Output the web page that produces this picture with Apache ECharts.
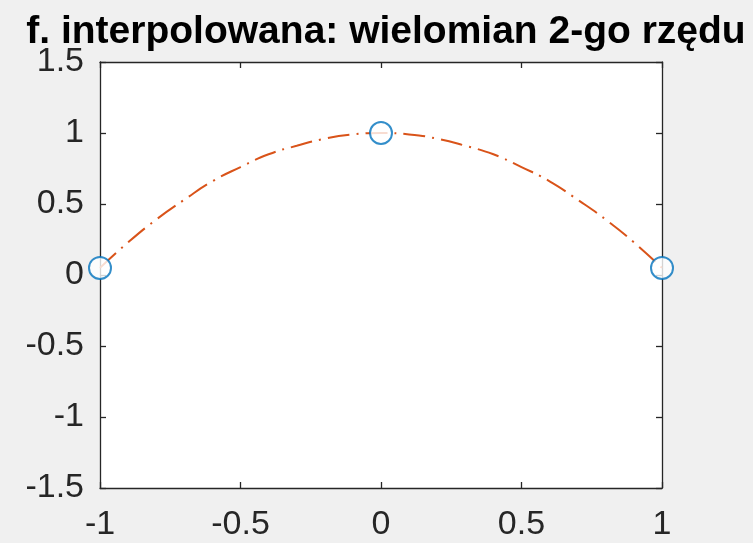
<!DOCTYPE html>
<html>
<head>
<meta charset="utf-8">
<script src="https://cdn.jsdelivr.net/npm/echarts@6/dist/echarts.min.js"></script>
<style>html,body{margin:0;padding:0;background:#f0f0f0;}#c{width:753px;height:543px;}</style>
</head>
<body>
<div id="c"></div>
<script>
var titleText = 'f. interpolowana: wielomian 2-go rzędu';
var nodeX = [-1, 0, 1];
var nodeY = [0.05, 1, 0.05];
var curveX = [-1, -0.9, -0.8, -0.7, -0.6, -0.5, -0.4, -0.3, -0.2, -0.1, 0, 0.1, 0.2, 0.3, 0.4, 0.5, 0.6, 0.7, 0.8, 0.9, 1];
var curveY = [0.05, 0.23, 0.39, 0.53, 0.66, 0.76, 0.85, 0.91, 0.96, 0.99, 1, 0.99, 0.96, 0.91, 0.85, 0.76, 0.66, 0.53, 0.39, 0.23, 0.05];
var xTicks = [-1, -0.5, 0, 0.5, 1];
var yTicks = [-1.5, -1, -0.5, 0, 0.5, 1, 1.5];

var txt = '#262626';
function pairs(a, b) { return a.map(function (v, i) { return [v, b[i]]; }); }
function fmt(v) { return String(v); }
var font = 'Liberation Sans, Arial, Helvetica, sans-serif';

var baseAxis = {
  axisLine: { show: true, onZero: false, lineStyle: { color: txt, width: 1.3 } },
  axisTick: { show: true, inside: true, length: 6, lineStyle: { color: txt, width: 1.3 } },
  splitLine: { show: false }
};
function ax(extra) { return Object.assign({}, JSON.parse(JSON.stringify(baseAxis)), extra); }

var chart = echarts.init(document.getElementById('c'), null, { renderer: 'canvas' });
chart.setOption({
  backgroundColor: '#f0f0f0',
  animation: false,
  title: {
    text: titleText, left: 381, top: 8, textAlign: 'center',
    textStyle: { fontFamily: font, fontWeight: 'bold', fontSize: 39, color: '#000' }
  },
  grid: { left: 100, right: 91, top: 62, bottom: 55, show: true, backgroundColor: '#ffffff', borderWidth: 0 },
  xAxis: [
    ax({ type: 'value', position: 'bottom', min: xTicks[0], max: xTicks[xTicks.length - 1], interval: 0.5,
      axisLabel: { show: true, formatter: fmt, color: txt, fontSize: 34, fontFamily: font, margin: 20 } }),
    ax({ type: 'value', position: 'top', min: xTicks[0], max: xTicks[xTicks.length - 1], interval: 0.5,
      axisLabel: { show: false } })
  ],
  yAxis: [
    ax({ type: 'value', position: 'left', min: yTicks[0], max: yTicks[yTicks.length - 1], interval: 0.5,
      axisLabel: { show: true, formatter: fmt, color: txt, fontSize: 34, fontFamily: font, margin: 16 } }),
    ax({ type: 'value', position: 'right', min: yTicks[0], max: yTicks[yTicks.length - 1], interval: 0.5,
      axisLabel: { show: false } })
  ],
  series: [
    {
      type: 'line', data: pairs(curveX, curveY), showSymbol: false, smooth: true,
      lineStyle: { color: '#D95319', width: 2, type: [22, 7, 2, 7] }, z: 2
    },
    {
      type: 'scatter', data: pairs(nodeX, nodeY), symbol: 'emptyCircle', symbolSize: 22,
      itemStyle: { color: '#0072BD', borderColor: '#0072BD', borderWidth: 2 }, z: 3
    }
  ]
});
</script>
</body>
</html>
